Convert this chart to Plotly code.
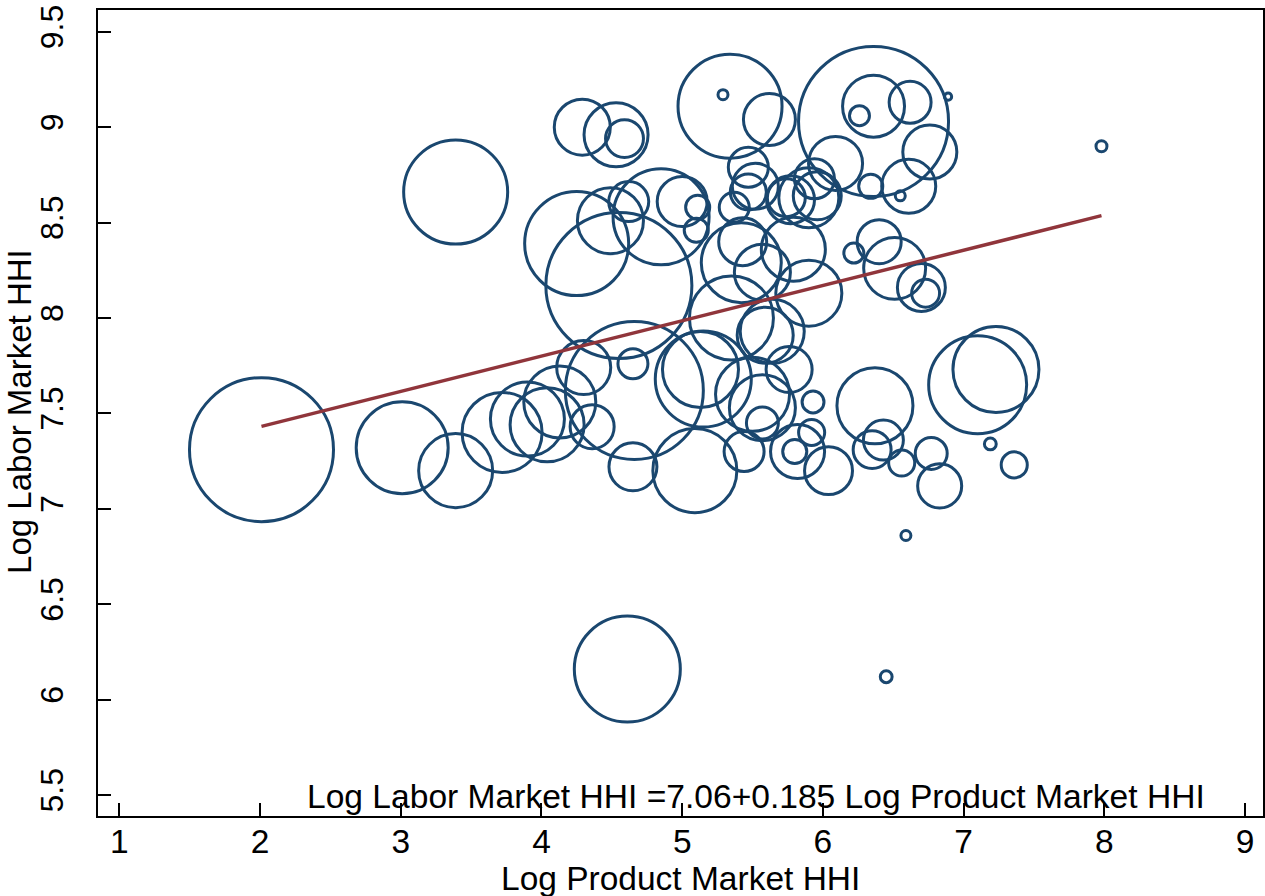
import plotly.graph_objects as go

# Industry-level observations: log product-market HHI, log labor-market HHI,
# and the employment weight that sets each bubble's area.
log_product_hhi = [
    2.01, 3.01, 3.39, 3.39, 3.72, 3.90, 4.04, 4.13, 4.30, 4.36,
    4.65, 4.66, 4.65, 5.09, 4.61, 6.45, 6.59, 6.04, 6.83, 6.37,
    6.35, 6.43, 6.56, 6.77, 7.19, 7.36, 7.10, 7.23, 5.93, 5.92,
    5.80, 5.82, 5.44, 5.57, 5.50, 5.57, 5.76, 5.59, 5.64, 5.15,
    5.13, 5.90, 5.35, 4.85, 5.00, 4.25, 4.49, 4.62, 4.55, 5.11,
    5.10, 5.37, 5.47, 5.47, 5.52, 5.42, 5.43, 5.57, 5.79, 5.94,
    5.96, 5.77, 5.74, 5.90, 4.29, 4.53, 4.59, 5.34, 5.29, 5.62,
    6.36, 6.36, 6.62, 6.26, 6.76, 6.09, 6.61, 6.34, 6.55, 6.89,
    7.98, 6.40, 6.22, 6.51, 6.70, 6.73,
]
log_labor_hhi = [
    7.31, 7.32, 7.20, 8.66, 7.40, 7.47, 7.44, 7.56, 7.74, 7.43,
    7.76, 7.62, 7.22, 7.20, 6.16, 6.12, 6.86, 7.20, 7.12, 7.54,
    7.31, 7.36, 7.24, 7.29, 7.34, 7.23, 7.65, 7.73, 7.56, 7.40,
    7.30, 7.30, 7.30, 7.45, 7.60, 7.53, 7.73, 7.91, 7.93, 7.68,
    7.73, 8.13, 8.00, 8.53, 8.61, 8.39, 8.51, 8.61, 8.17, 8.58,
    8.46, 8.58, 8.79, 8.66, 8.69, 8.29, 8.40, 8.24, 8.36, 8.73,
    8.64, 8.62, 8.63, 8.63, 9.00, 8.96, 8.94, 9.11, 9.17, 9.04,
    9.03, 9.11, 9.13, 9.06, 8.87, 8.81, 8.69, 8.69, 8.64, 9.16,
    8.90, 8.40, 8.34, 8.26, 8.16, 8.13,
]
emp_weight = [
    207.4, 84.6, 54.8, 108.2, 64.0, 54.8, 54.8, 51.8, 29.2, 19.4,
    9.0, 190.4, 23.0, 70.6, 112.4, 1.4, 1.0, 23.0, 19.4, 57.8,
    14.4, 16.0, 6.8, 10.2, 1.4, 6.8, 96.0, 74.0, 4.8, 6.8,
    5.8, 29.2, 16.0, 10.2, 54.8, 43.6, 21.2, 31.4, 41.0, 92.2,
    57.8, 43.6, 70.6, 92.2, 25.0, 108.2, 43.6, 16.0, 213.2, 5.8,
    5.8, 9.0, 16.0, 13.0, 21.2, 64.0, 23.0, 31.4, 41.0, 16.0,
    23.0, 23.0, 14.4, 36.0, 31.4, 41.0, 14.4, 108.2, 1.0, 27.0,
    225.0, 38.4, 17.6, 4.0, 29.2, 29.2, 29.2, 5.8, 1.0, 0.5,
    1.2, 19.4, 4.0, 38.4, 23.0, 7.8,
]

# Weighted linear fit reported on the chart
intercept = 7.06
slope = 0.185

x_ticks = [1, 2, 3, 4, 5, 6, 7, 8, 9]
y_ticks = [5.5, 6, 6.5, 7, 7.5, 8, 8.5, 9, 9.5]
y_tick_labels = ["5.5", "6", "6.5", "7", "7.5", "8", "8.5", "9", "9.5"]

x_title = "Log Product Market HHI"
y_title = "Log Labor Market HHI"

NAVY = "#1a476f"
MAROON = "#90353b"
FONT = "Liberation Sans, Arial, sans-serif"

x_fit = [min(log_product_hhi), max(log_product_hhi)]
y_fit = [intercept + slope * v for v in x_fit]

fig = go.Figure()
fig.add_trace(go.Scatter(
    x=log_product_hhi,
    y=log_labor_hhi,
    mode="markers",
    marker=dict(
        size=emp_weight,
        sizemode="area",
        sizeref=0.02,
        opacity=1,
        color="rgba(0,0,0,0)",
        line=dict(color=NAVY, width=3),
    ),
    hoverinfo="skip",
))
fig.add_trace(go.Scatter(
    x=x_fit,
    y=y_fit,
    mode="lines",
    line=dict(color=MAROON, width=3.5),
    hoverinfo="skip",
))

fig.update_layout(
    template="none",
    width=1265,
    height=896,
    margin=dict(l=98, r=2, t=10, b=80),
    plot_bgcolor="white",
    paper_bgcolor="white",
    showlegend=False,
    font=dict(family=FONT, size=32, color="black"),
)

axis_common = dict(
    ticks="inside",
    ticklen=13,
    tickwidth=2,
    tickcolor="black",
    showline=True,
    linewidth=2,
    linecolor="black",
    mirror=True,
    showgrid=False,
    zeroline=False,
    automargin=False,
)

fig.update_xaxes(
    range=[0.848, 9.128],
    tickvals=x_ticks,
    ticktext=[str(t) for t in x_ticks],
    tickfont=dict(size=33.5),
    ticklabelstandoff=-5,
    **axis_common,
)
fig.update_yaxes(
    range=[5.39, 9.614],
    tickvals=y_ticks,
    ticktext=y_tick_labels,
    tickangle=-90,
    tickfont=dict(size=32),
    ticklabelstandoff=20,
    **axis_common,
)

# Axis titles
fig.add_annotation(
    text=x_title, xref="paper", yref="paper", x=0.5, y=-0.077,
    xanchor="center", yanchor="middle", showarrow=False,
    font=dict(size=33.5, family=FONT, color="black"),
)
fig.add_annotation(
    text=y_title, xref="paper", yref="paper", x=-0.067, y=0.5025,
    xanchor="center", yanchor="middle", textangle=-90, showarrow=False,
    font=dict(size=33, family=FONT, color="black"),
)

# Fitted equation
fig.add_annotation(
    text=f"Log Labor Market HHI ={intercept:.2f}+{slope:.3f} Log Product Market HHI",
    x=2.32,
    y=5.49,
    xref="x",
    yref="y",
    xanchor="left",
    yanchor="middle",
    showarrow=False,
    font=dict(size=33.6, family=FONT, color="black"),
)

fig.write_html("out.html")
